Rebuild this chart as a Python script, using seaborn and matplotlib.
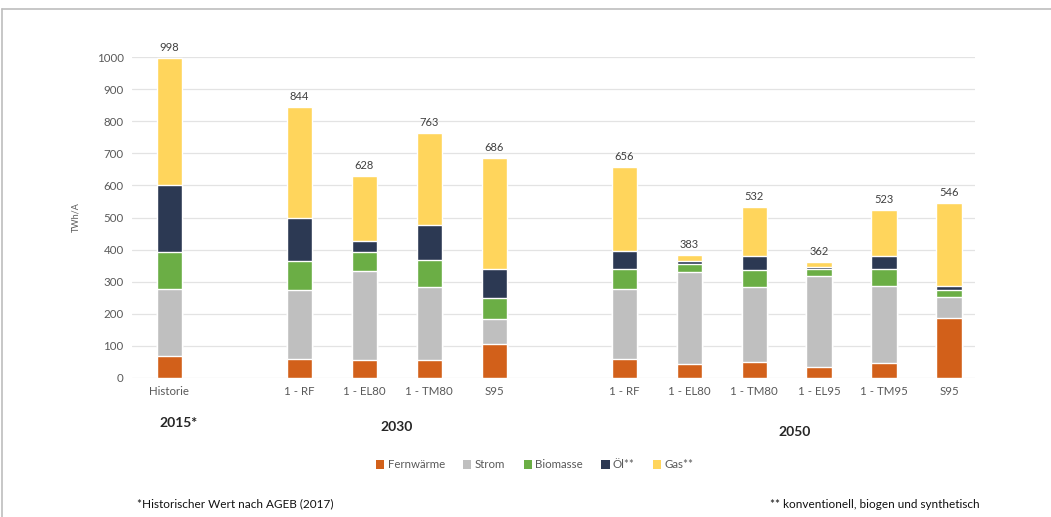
import matplotlib
matplotlib.use("Agg")
import matplotlib.pyplot as plt
from matplotlib.patches import Patch
from matplotlib.lines import Line2D
import seaborn as sns
import numpy as np
import pandas as pd

# ---- data ----
categories = ["Historie", "1 - RF", "1 - EL80", "1 - TM80", "S95",
              "1 - RF", "1 - EL80", "1 - TM80", "1 - EL95", "1 - TM95", "S95"]
slots = [0, 2, 3, 4, 5, 7, 8, 9, 10, 11, 12]
totals = ["998", "844", "628", "763", "686", "656", "383", "532", "362", "523", "546"]
series = ["Fernwärme", "Strom", "Biomasse", "Öl**", "Gas**"]
fernwaerme = [67, 58, 56, 56, 106, 58, 44, 51, 35, 48, 187]
strom = [210, 217, 276, 229, 77, 219, 285, 234, 282, 240, 64]
biomasse = [116, 88, 60, 82, 66, 63, 27, 50, 24, 52, 24]
oel = [208, 134, 34, 109, 91, 55, 7, 44, 5, 41, 13]
gas = [397, 347, 202, 287, 346, 261, 20, 153, 16, 142, 258]
groups = ["2015*", "2030", "2050"]
group_pos = [0.15, 3.5, 9.63]
colors = ["#D2601A", "#BFBFBF", "#6BAE45", "#2C3953", "#FFD55C"]

sns.set_theme(style="white")
plt.rcParams["font.family"] = ["Lato", "DejaVu Sans"]

fig = plt.figure(figsize=(10.51, 5.17), dpi=100)
ax = fig.add_axes([132 / 1051, 1 - 378 / 517, (975 - 132) / 1051, (378 - 57) / 517])

layers = [fernwaerme, strom, biomasse, oel, gas]
cum = np.cumsum(np.array(layers), axis=0)
df = pd.DataFrame({"pos": slots})
for i in range(len(series) - 1, -1, -1):
    df["v"] = cum[i]
    sns.barplot(data=df, x="pos", y="v", native_scale=True, color=colors[i],
                width=0.385, saturation=1, ax=ax, zorder=3)

ax.set_xlim(-0.57, 12.4)
ax.set_ylim(0, 1000)
ax.set_yticks(range(0, 1001, 100))
ax.yaxis.grid(True, color="#E3E3E3", linewidth=0.9, zorder=0)
ax.set_axisbelow(True)
for s in ax.spines.values():
    s.set_visible(False)
ax.tick_params(axis="both", length=0, labelsize=8.3, colors="#595959", pad=6)
ax.set_xticks(slots)
ax.set_xticklabels(categories)
ax.set_xlabel("")
ax.set_ylabel("TWh/A", fontsize=6.5, color="#595959", labelpad=12)

tot_vals = cum[-1]
for x, t, lab in zip(slots, tot_vals, totals):
    ax.text(x, t + 16, lab, ha="center", va="bottom", fontsize=8, color="#404040", clip_on=False)

for g, gp, yy in zip(groups, group_pos, [423, 427, 432]):
    fig.text((169 + gp * 65) / 1051, 1 - yy / 517, g, ha="center", va="center",
             fontsize=10, fontweight="bold", color="#262626")

handles = [Patch(facecolor=c, edgecolor="none") for c in colors]
leg = fig.legend(handles, series, loc="center", bbox_to_anchor=(535 / 1051, 1 - 465 / 517),
                 ncol=5, frameon=False, fontsize=8.3, handlelength=0.7, handleheight=0.7,
                 handletextpad=0.3, columnspacing=1.6)
for t in leg.get_texts():
    t.set_color("#595959")

fig.text(137 / 1051, 1 - 504 / 517, "*Historischer Wert nach AGEB (2017)", ha="left", va="center",
         fontsize=8.5, color="#111111")
fig.text(980 / 1051, 1 - 504 / 517, "** konventionell, biogen und synthetisch", ha="right", va="center",
         fontsize=8.5, color="#111111")

fig.add_artist(Line2D([2 / 1051, 1], [1 - 9 / 517, 1 - 9 / 517], transform=fig.transFigure,
                      color="#BDBDBD", linewidth=1.2))
fig.add_artist(Line2D([2 / 1051, 2 / 1051], [0, 1 - 9 / 517], transform=fig.transFigure,
                      color="#BDBDBD", linewidth=1.2))

fig.savefig("out.png", dpi=100)
